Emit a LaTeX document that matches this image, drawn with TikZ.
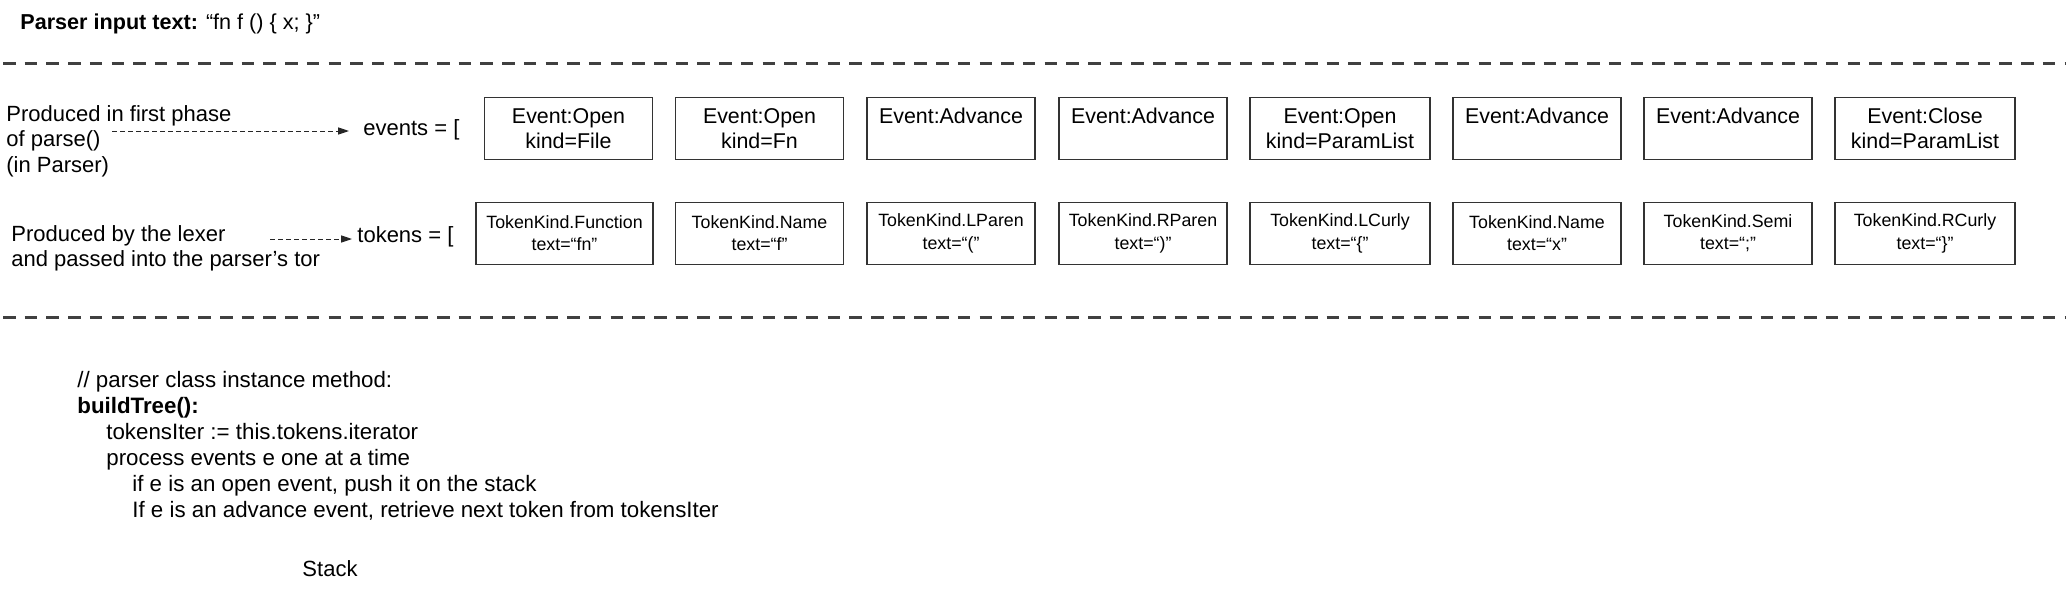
\documentclass[tikz,border=0pt]{standalone}
\usepackage{fontspec}
\setmainfont{Liberation Sans}
\usetikzlibrary{arrows.meta}

\begin{document}
\begin{tikzpicture}[x=0.5pt, y=-0.5pt,
  sep/.style={line width=1.5pt, draw=black!75, dash pattern=on 6.25pt off 4.6pt},
  evbox/.style={draw=black!80, line width=0.6pt, minimum width=84pt, minimum height=31pt, inner sep=0pt, align=center, font=\fontsize{10.7}{12.5}\selectfont},
  tkbox/.style={evbox, font=\fontsize{8.9}{11.3}\selectfont},
  wide/.style={minimum width=90pt},
  note/.style={align=left, inner sep=0pt, anchor=north west, font=\fontsize{11}{12.8}\selectfont},
  ptr/.style={draw=black!85, line width=0.5pt, dash pattern=on 2.5pt off 1.5pt, -{Triangle[length=5.5pt,width=3.6pt]}}]
  \useasboundingbox (0,0) rectangle (2066,590);
  % header and separators
  \node[anchor=west, inner sep=0pt, font=\fontsize{10.8}{13}\selectfont] (title) at (20,24) {\textbf{Parser input text:} “fn f () \{ x; \}”};
  \draw[sep] (3,63) -- (2066,63);
  \draw[sep] (3,317) -- (2066,317);
  % where the two lists come from
  \node[note] (phase) at (6,105) {Produced in first phase\\of parse()\\(in Parser)};
  \node[note] (lexer) at (11,225) {Produced by the lexer\\and passed into the parser’s tor};
  \coordinate (phaseout) at (112,131);
  \coordinate (lexout) at (270,239);
  \node[anchor=west, inner sep=0pt, font=\fontsize{11}{13}\selectfont] (events) at (363,130) {events = [};
  \node[anchor=west, inner sep=0pt, font=\fontsize{11}{13}\selectfont] (tokens) at (357,237) {tokens = [};
  \draw[ptr, shorten >=7pt] (phaseout) -- (phaseout -| events.west);
  \draw[ptr, shorten >=2.5pt] (lexout) -- (lexout -| tokens.west);
  % events
  \node[evbox] (e1) at (568.5,128.3) {Event:Open\\kind=File};
  \node[evbox] (e2) at (759.5,128.3) {Event:Open\\kind=Fn};
  \node[evbox] (e3) at (951,128.3) {Event:Advance\\\mbox{}};
  \node[evbox] (e4) at (1143,128.3) {Event:Advance\\\mbox{}};
  \node[evbox, wide] (e5) at (1340,128.3) {Event:Open\\kind=ParamList};
  \node[evbox] (e6) at (1537,128.3) {Event:Advance\\\mbox{}};
  \node[evbox] (e7) at (1728,128.3) {Event:Advance\\\mbox{}};
  \node[evbox, wide] (e8) at (1925,128.3) {Event:Close\\kind=ParamList};
  % tokens
  \node[tkbox, minimum width=88.5pt] (t1) at (564.5,233.3) {TokenKind.Function\\text=“fn”};
  \node[tkbox] (t2) at (759.5,233.3) {TokenKind.Name\\text=“f”};
  \node[tkbox] (t3) at (951,233.3) {TokenKind.LParen\\text=“(”};
  \node[tkbox] (t4) at (1143,233.3) {TokenKind.RParen\\text=“)”};
  \node[tkbox, wide] (t5) at (1340,233.3) {TokenKind.LCurly\\text=“\{”};
  \node[tkbox] (t6) at (1537,233.3) {TokenKind.Name\\text=“x”};
  \node[tkbox] (t7) at (1728,233.3) {TokenKind.Semi\\text=“;”};
  \node[tkbox, wide] (t8) at (1925,233.3) {TokenKind.RCurly\\text=“\}”};
  % buildTree pseudo code
  \node[note, font=\fontsize{11.15}{13}\selectfont] (code) at (77,371) {// parser class instance method:\\
    \textbf{buildTree():}\\
    \hspace*{14.5pt}tokensIter := this.tokens.iterator\\
    \hspace*{14.5pt}process events e one at a time\\
    \hspace*{27.5pt}if e is an open event, push it on the stack\\
    \hspace*{27.5pt}If e is an advance event, retrieve next token from tokensIter};
  \node[font=\fontsize{11}{13}\selectfont] (stack) at (330,569) {Stack};
\end{tikzpicture}
\end{document}
